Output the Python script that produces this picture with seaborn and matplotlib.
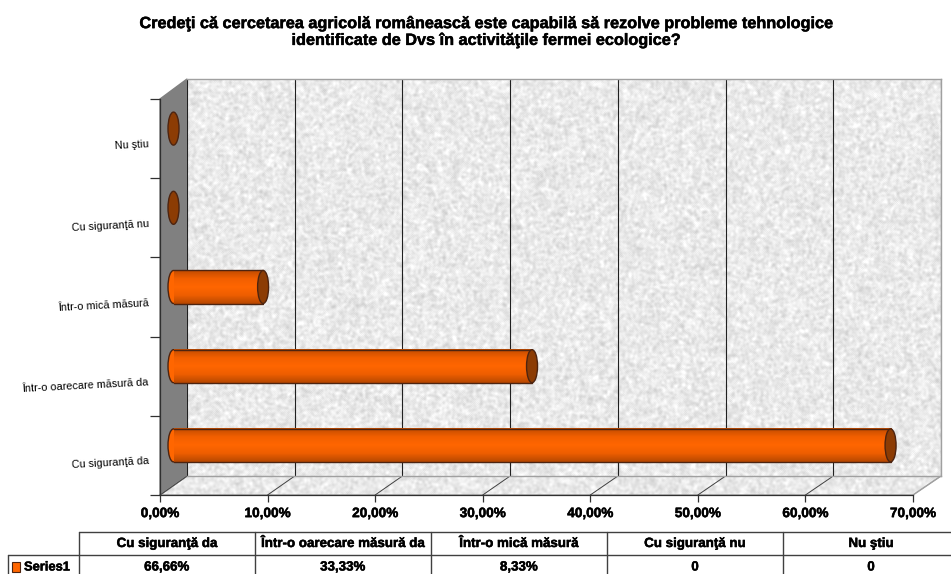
import numpy as np
import pandas as pd
import matplotlib
matplotlib.use("Agg")
import matplotlib.pyplot as plt
import matplotlib.patheffects as pe
from matplotlib.colors import LinearSegmentedColormap
from matplotlib.patches import Ellipse, Polygon
from matplotlib.transforms import ScaledTranslation
import seaborn as sns

# VALUES
categories = ["Cu siguranţă da", "Într-o oarecare măsură da", "Într-o mică măsură", "Cu siguranţă nu", "Nu ştiu"]
values = [66.66, 33.33, 8.33, 0, 0]
table_labels = ["66,66%", "33,33%", "8,33%", "0", "0"]
series_name = "Series1"
x_ticks = [0, 10, 20, 30, 40, 50, 60, 70]
x_tick_labels = ["0,00%", "10,00%", "20,00%", "30,00%", "40,00%", "50,00%", "60,00%", "70,00%"]
title = ("Credeţi că cercetarea agricolă românească este capabilă să rezolve probleme tehnologice\n"
         "identificate de Dvs în activităţile fermei ecologice?")

W, H = 951, 574
# PLANES OF THE FAKE 3D BOX, IN PIXELS
FRONT = (160, 913, 99, 495)
BACK = (187, 941, 79, 476)
MID = (173.5, 926.5, 89, 485)
TABLE_X = [79, 255, 431, 607, 783, 959]
TABLE_Y = [532, 555, 580]
BODY = "#ff6600"
CAP = "#8c3c04"
EDGE = "#4d2410"
# THE ORIGINAL TEXT IS A BIT SMEARED AND FAT
FAT = [pe.withStroke(linewidth=0.35, foreground="black")]

sns.set_theme(style="white")
plt.rcParams["font.family"] = ["Liberation Sans", "DejaVu Sans"]


def axes_at(fig, box, zorder):
    l, r, t, b = box
    a = fig.add_axes([l / W, 1 - b / H, (r - l) / W, (b - t) / H], zorder=zorder)
    a.patch.set_alpha(0)
    return a


def speckle(h, w):
    # GREY GRANITE TEXTURE, JUST BACKGROUND
    yy, xx = np.mgrid[0:h, 0:w]
    n = np.sin(xx * 12.9898 + yy * 78.233) * 43758.5453
    n = n - np.floor(n)
    for _ in range(3):
        n = (n + np.roll(n, 1, 0) + np.roll(n, -1, 0) + np.roll(n, 1, 1) + np.roll(n, -1, 1)) / 5
    n = (n - n.mean()) / n.std()
    return np.clip(0.915 + 0.03 * n, 0.75, 1)


fig = plt.figure(figsize=(W / 100, H / 100), dpi=100)
fig.text(486 / W, 1 - 32 / H, title, ha="center", va="center", fontsize=11.7, fontweight="bold",
         color="black", linespacing=1.15, path_effects=FAT)

# LEFT WALL, FLOOR, TABLE ARE DRAWN IN PIXEL COORDINATES
bg = fig.add_axes([0, 0, 1, 1], zorder=0)
bg.set_xlim(0, W)
bg.set_ylim(H, 0)
bg.axis("off")
bg.add_patch(Polygon([(FRONT[0], FRONT[2]), (BACK[0], BACK[2]), (BACK[0], BACK[3]), (FRONT[0], FRONT[3])],
                     fc="#808080", ec="#808080", lw=1))
floor = Polygon([(FRONT[0], FRONT[3]), (BACK[0], BACK[3]), (BACK[1], BACK[3]), (FRONT[1], FRONT[3])],
                fc="none", ec="#a0a0a0", lw=1)
bg.add_patch(floor)
floor_img = bg.imshow(speckle(20, 790), extent=[FRONT[0], BACK[1], FRONT[3], BACK[3]], cmap="gray",
                      vmin=0, vmax=1, aspect="auto", zorder=0.5)
floor_img.set_clip_path(floor)
bg.set_xlim(0, W)
bg.set_ylim(H, 0)
for t in x_ticks:
    fx = FRONT[0] + (FRONT[1] - FRONT[0]) * t / 70
    bx = BACK[0] + (BACK[1] - BACK[0]) * t / 70
    bg.plot([fx, bx], [FRONT[3], BACK[3]], color="#404040" if t < 70 else "#a0a0a0", lw=0.7, zorder=1)

# BACK WALL WITH GRID
back = axes_at(fig, BACK, 1)
back.imshow(speckle(BACK[3] - BACK[2], BACK[1] - BACK[0]), extent=[0, 70, 0, 1], cmap="gray", vmin=0, vmax=1,
            aspect="auto", zorder=0)
back.set_xlim(0, 70)
back.set_ylim(0, 1)
back.set_xticks(x_ticks)
back.set_yticks([])
back.tick_params(length=0, labelbottom=False)
back.grid(axis="x", color="#202020", lw=0.8)
for s in back.spines.values():
    s.set_color("#a0a0a0")
    s.set_linewidth(1)
back.spines["left"].set_visible(False)

# FRONT AXES: ONLY TICKS AND LABELS
ax = axes_at(fig, FRONT, 2)
ax.set_xlim(0, 70)
ax.set_ylim(4.5, -0.5)
ax.set_xticks(x_ticks)
ax.set_xticklabels(x_tick_labels, fontsize=9.8, fontweight="bold", color="black", path_effects=FAT)
ax.set_yticks(np.arange(-0.5, 5))
ax.set_yticklabels([])
ax.set_yticks(np.arange(5), categories[::-1], minor=True, fontsize=7.8, rotation=3, ha="right",
              rotation_mode="anchor", color="black")
ax.tick_params(axis="x", length=5, width=0.9, color="#303030", pad=3, bottom=True)
ax.tick_params(axis="y", which="major", length=7, width=0.9, color="#303030", left=True)
ax.tick_params(axis="y", which="minor", length=0, pad=8, labelleft=True)
for lab in ax.get_yticklabels(minor=True):
    lab.set_transform(lab.get_transform() + ScaledTranslation(0, -5 / 100, fig.dpi_scale_trans))
for name in ["top", "right"]:
    ax.spines[name].set_visible(False)
for name in ["left", "bottom"]:
    ax.spines[name].set_color("#303030")
    ax.spines[name].set_linewidth(0.9)

# BARS SIT HALFWAY INTO THE BOX
bars = axes_at(fig, MID, 3)
df = pd.DataFrame({"answer": categories, "share": values})
sns.barplot(data=df, y="answer", x="share", order=categories[::-1], width=0.417, color=BODY, ax=bars)
shade = LinearSegmentedColormap.from_list("cyl", ["#c24c00", "#f25f00", BODY, "#ee5e00", "#b84800"])
cap_w = 11 / (MID[1] - MID[0]) * 70
for p in list(bars.patches):
    x0, y0, w, h = p.get_x(), p.get_y(), p.get_width(), p.get_height()
    yc = y0 + h / 2
    p.set_visible(False)
    if w > 0:
        bars.add_patch(Ellipse((x0, yc), cap_w, h, fc=BODY, ec=EDGE, lw=1, zorder=2, clip_on=False))
        bars.imshow(np.linspace(0, 1, 40)[:, None], extent=[x0, x0 + w, y0 + h, y0], cmap=shade, aspect="auto", zorder=3)
        bars.plot([x0, x0 + w], [y0, y0], color=EDGE, lw=1, zorder=4)
        bars.plot([x0, x0 + w], [y0 + h, y0 + h], color=EDGE, lw=1, zorder=4)
    bars.add_patch(Ellipse((x0 + w, yc), cap_w, h, fc=CAP, ec=EDGE, lw=1, zorder=5, clip_on=False))
bars.set_xlim(0, 70)
bars.set_ylim(4.5, -0.5)
bars.axis("off")

# DATA TABLE
line = "#404040"
for x in TABLE_X[:-1]:
    bg.plot([x, x], [TABLE_Y[0], TABLE_Y[2]], color=line, lw=1)
bg.plot([TABLE_X[0], W], [TABLE_Y[0], TABLE_Y[0]], color=line, lw=1)
bg.plot([8, W], [TABLE_Y[1], TABLE_Y[1]], color=line, lw=1)
bg.plot([8, 8], [TABLE_Y[1], TABLE_Y[2]], color=line, lw=1)
for i, cat in enumerate(categories):
    xc = (TABLE_X[i] + TABLE_X[i + 1]) / 2
    bg.text(xc, 544, cat, ha="center", va="center", fontsize=9.6, fontweight="bold", color="black", path_effects=FAT)
    bg.text(xc, 567.5, table_labels[i], ha="center", va="center", fontsize=9.6, fontweight="bold", color="black", path_effects=FAT)
bg.add_patch(Polygon([(12, 562), (20, 562), (20, 572), (12, 572)], fc=BODY, ec=EDGE, lw=0.8))
bg.text(24, 567.5, series_name, ha="left", va="center", fontsize=9.3, fontweight="bold", color="black", path_effects=FAT)

fig.savefig("out.png", dpi=100)
